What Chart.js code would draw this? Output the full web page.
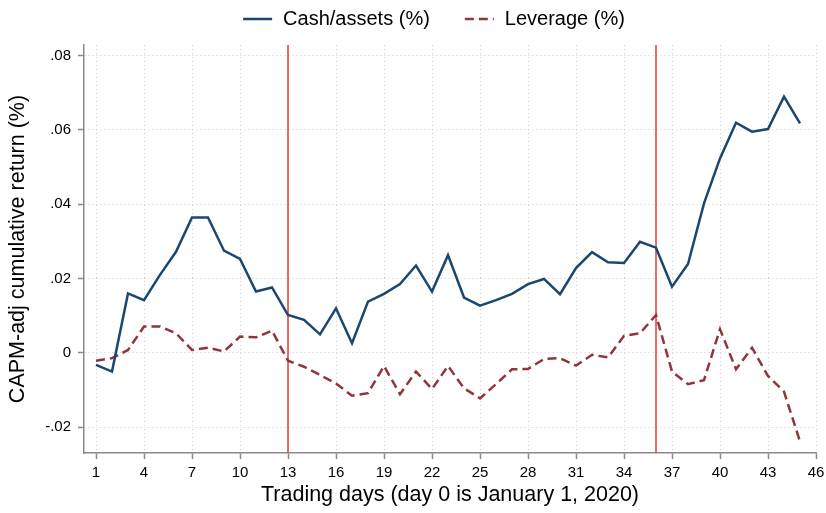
<!DOCTYPE html>
<html>
<head>
<meta charset="utf-8">
<script src="https://cdn.jsdelivr.net/npm/chart.js@4.4.1/dist/chart.umd.min.js"></script>
<style>
  html, body { margin: 0; padding: 0; background: #fff; }
  #chart { display: block; }
</style>
</head>
<body>
<canvas id="chart" width="826" height="513"></canvas>
<script>
// trading days since Jan 1, 2020
const days = [1, 2, 3, 4, 5, 6, 7, 8, 9, 10, 11, 12, 13, 14, 15, 16, 17, 18, 19, 20,
              21, 22, 23, 24, 25, 26, 27, 28, 29, 30, 31, 32, 33, 34, 35, 36, 37, 38, 39, 40,
              41, 42, 43, 44, 45];

const cashAssets = [-0.0032, -0.0050, 0.0160, 0.0142, 0.0210, 0.0272, 0.0364, 0.0364, 0.0275, 0.0253,
                    0.0165, 0.0176, 0.0102, 0.0089, 0.0050, 0.0120, 0.0026, 0.0138, 0.0159, 0.0185,
                    0.0235, 0.0165, 0.0263, 0.0149, 0.0127, 0.0142, 0.0159, 0.0185, 0.0199, 0.0158,
                    0.0228, 0.0271, 0.0244, 0.0242, 0.0299, 0.0283, 0.0178, 0.0239, 0.0402, 0.0523,
                    0.0619, 0.0595, 0.0602, 0.0689, 0.0617];

const leverage = [-0.0021, -0.0014, 0.0008, 0.0071, 0.0071, 0.0053, 0.0008, 0.0014, 0.0004, 0.0044,
                  0.0042, 0.0060, -0.0021, -0.0037, -0.0059, -0.0082, -0.0115, -0.0108, -0.0035, -0.0111,
                  -0.0050, -0.0097, -0.0035, -0.0095, -0.0122, -0.0084, -0.0044, -0.0043, -0.0016, -0.0014,
                  -0.0034, -0.0005, -0.0012, 0.0046, 0.0053, 0.0102, -0.0050, -0.0084, -0.0073, 0.0064,
                  -0.0044, 0.0014, -0.0062, -0.0104, -0.0238];

const xTicks = [1, 4, 7, 10, 13, 16, 19, 22, 25, 28, 31, 34, 37, 40, 43, 46];
const yTicks = [-0.02, 0, 0.02, 0.04, 0.06, 0.08];
const eventDays = [13, 36];

const FONT = "'Liberation Sans', Arial, sans-serif";
const BLUE = '#1a476f';
const MAROON = '#90353b';
const GRID = '#cfcfcf';
const AXIS = '#8a8a8a';

// stata-like labels: .08, -.02, 0
function fmtY(v) {
    if (Math.abs(v) < 1e-9) return '0';
    return v.toFixed(2).replace('0.', '.');
}

// red vertical event lines
const eventLines = {
    id: 'eventLines',
    beforeDatasetsDraw(chart) {
        const { ctx, chartArea, scales } = chart;
        ctx.save();
        ctx.strokeStyle = '#e8382f';
        ctx.lineWidth = 1.5;
        eventDays.forEach(d => {
            const x = scales.x.getPixelForValue(d);
            ctx.beginPath();
            ctx.moveTo(x, chartArea.top);
            ctx.lineTo(x, chartArea.bottom);
            ctx.stroke();
        });
        ctx.restore();
    }
};

// legend with stata spacing
const topLegend = {
    id: 'topLegend',
    afterDraw(chart) {
        const ctx = chart.ctx;
        const sets = chart.data.datasets;
        const lineW = 29, gapText = 11, gapItem = 35, y = 19;
        ctx.save();
        ctx.font = '20px ' + FONT;
        const widths = sets.map(s => ctx.measureText(s.label).width);
        let total = 0;
        widths.forEach((w, i) => { total += lineW + gapText + w + (i ? gapItem : 0); });
        let x = 434 - total / 2;
        sets.forEach((s, i) => {
            ctx.strokeStyle = s.borderColor;
            ctx.lineWidth = s.borderWidth;
            ctx.setLineDash(s.borderDash || []);
            ctx.beginPath();
            ctx.moveTo(x, y);
            ctx.lineTo(x + lineW, y);
            ctx.stroke();
            ctx.setLineDash([]);
            ctx.fillStyle = '#000';
            ctx.textBaseline = 'middle';
            ctx.textAlign = 'left';
            ctx.fillText(s.label, x + lineW + gapText, y);
            x += lineW + gapText + widths[i] + gapItem;
        });
        ctx.restore();
    }
};

const ctx = document.getElementById('chart').getContext('2d');
new Chart(ctx, {
    type: 'line',
    data: {
        datasets: [{
            label: 'Cash/assets (%)',
            data: days.map((d, i) => ({ x: d, y: cashAssets[i] })),
            borderColor: BLUE,
            borderWidth: 2.5,
            pointRadius: 0,
            tension: 0,
            fill: false
        }, {
            label: 'Leverage (%)',
            data: days.map((d, i) => ({ x: d, y: leverage[i] })),
            borderColor: MAROON,
            borderWidth: 2.5,
            borderDash: [9, 5],
            pointRadius: 0,
            tension: 0,
            fill: false
        }]
    },
    options: {
        responsive: false,
        animation: false,
        layout: { padding: { left: 0, right: 10, top: 45, bottom: 0 } },
        plugins: {
            legend: { display: false },
            tooltip: { enabled: false }
        },
        scales: {
            x: {
                type: 'linear',
                min: 0.25,
                max: 46,
                afterBuildTicks: s => { s.ticks = xTicks.map(v => ({ value: v })); },
                afterFit: s => {
                    s.height = 60;
                    // don't let the "46" label push the plot edge in
                    s.paddingLeft = 0;
                    s.paddingRight = 0;
                },
                grid: {
                    color: GRID,
                    lineWidth: 1,
                    tickLength: 6,
                    tickColor: AXIS,
                    tickWidth: 1.5,
                    tickBorderDash: []
                },
                border: { color: AXIS, width: 1.5, dash: [1, 3] },
                ticks: {
                    color: '#000',
                    padding: 5,
                    maxRotation: 0,
                    autoSkip: false,
                    font: { family: FONT, size: 15 }
                },
                title: {
                    display: true,
                    text: 'Trading days (day 0 is January 1, 2020)',
                    color: '#000',
                    font: { family: FONT, size: 21.5 },
                    padding: { top: 0, bottom: 5 }
                }
            },
            y: {
                min: -0.0269,
                max: 0.0828,
                afterBuildTicks: s => { s.ticks = yTicks.map(v => ({ value: v })); },
                afterFit: s => { s.width = 84; },
                grid: {
                    color: GRID,
                    lineWidth: 1,
                    tickLength: 6,
                    tickColor: AXIS,
                    tickWidth: 1.5,
                    tickBorderDash: []
                },
                border: { color: AXIS, width: 1.5, dash: [1, 3] },
                ticks: {
                    color: '#000',
                    padding: 7,
                    font: { family: FONT, size: 15 },
                    callback: v => fmtY(v)
                },
                title: {
                    display: true,
                    text: 'CAPM-adj cumulative return (%)',
                    color: '#000',
                    font: { family: FONT, size: 21.5 },
                    padding: { top: 5, bottom: 0 }
                }
            }
        }
    },
    plugins: [eventLines, topLegend]
});
</script>
</body>
</html>
